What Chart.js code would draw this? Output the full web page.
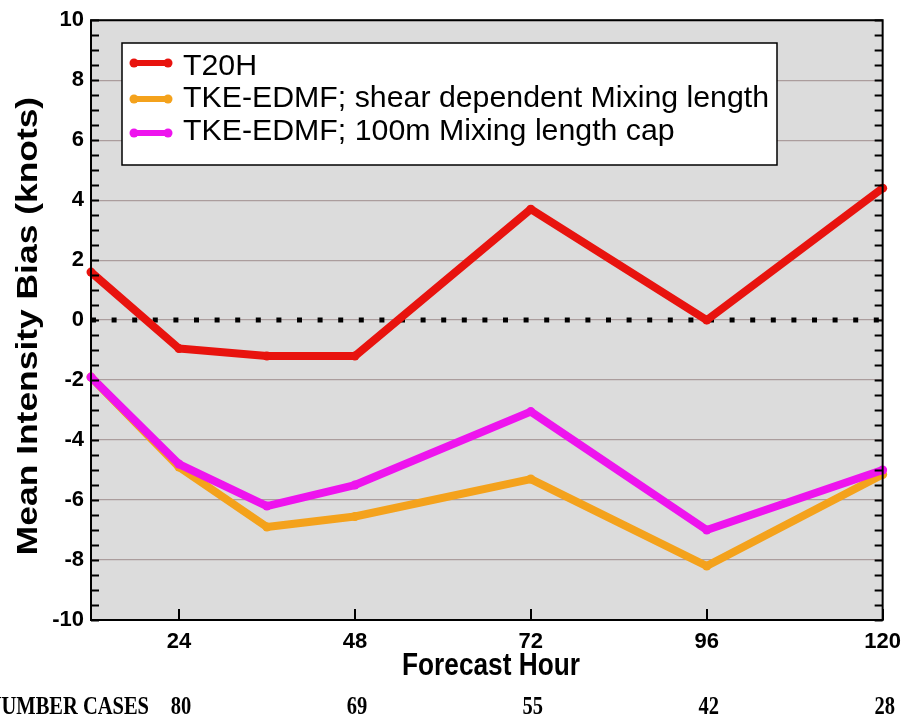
<!DOCTYPE html>
<html>
<head>
<meta charset="utf-8">
<title>Mean Intensity Bias</title>
<script src="https://cdn.jsdelivr.net/npm/chart.js@4/dist/chart.umd.min.js"></script>
<style>
  html, body { margin: 0; padding: 0; background: #ffffff; }
  #chart { display: block; }
</style>
</head>
<body>
<canvas id="chart" width="910" height="725"></canvas>
<script>
// ----- Data -----
const hours = [12, 24, 36, 48, 72, 96, 120];
const t20h = [1.6, -0.95, -1.2, -1.2, 3.7, 0.0, 4.4];
const shearMixing = [-1.9, -4.9, -6.9, -6.55, -5.3, -8.2, -5.15];
const cappedMixing = [-1.9, -4.8, -6.2, -5.5, -3.05, -7.0, -5.0];

const seriesLabels = [
    'T20H',
    'TKE-EDMF; shear dependent Mixing length',
    'TKE-EDMF; 100m Mixing length cap'
];
const seriesColors = ['#e8130e', '#f4a21c', '#ee14ee'];

const tickHours = [24, 48, 72, 96, 120];
const caseHours = [24, 48, 72, 96, 120];
const caseCounts = [80, 69, 55, 42, 28];

const FONT = '"Liberation Sans", Arial, Helvetica, sans-serif';
const SERIF = '"Liberation Serif", "Times New Roman", serif';

// ----- Helpers -----
function toPoints(values) {
    return hours.map((h, i) => ({ x: h, y: values[i] }));
}

// Text drawn with a horizontal squeeze, the way the axis captions look
function drawText(c, text, x, y, font, opts) {
    const o = Object.assign({ sx: 1, sy: 1, align: 'center', baseline: 'middle', rotate: 0, color: '#000' }, opts);
    c.save();
    c.translate(x, y);
    if (o.rotate) c.rotate(o.rotate);
    c.scale(o.sx, o.sy);
    c.font = font;
    c.fillStyle = o.color;
    c.textAlign = o.align;
    c.textBaseline = o.baseline;
    c.fillText(text, 0, 0);
    c.restore();
}

// ----- Plot frame: background, border, minor ticks -----
const framePlugin = {
    id: 'frame',
    beforeDraw(chart) {
        const { ctx: c, chartArea: a } = chart;
        c.save();
        c.fillStyle = '#dcdcdc';
        c.fillRect(a.left, a.top, a.right - a.left, a.bottom - a.top);
        c.restore();
    },
    afterDraw(chart) {
        const { ctx: c, chartArea: a } = chart;
        const y = chart.scales.y;
        const x = chart.scales.x;
        c.save();
        c.strokeStyle = '#000';
        c.lineWidth = 2;
        c.beginPath();
        // minor ticks every half knot, both sides, pointing inward
        for (let v = -10; v <= 10; v += 0.5) {
            const py = Math.round(y.getPixelForValue(v)) + 0.5;
            c.moveTo(a.left, py);
            c.lineTo(a.left + 8, py);
            c.moveTo(a.right, py);
            c.lineTo(a.right - 8, py);
        }
        // hour ticks along the bottom
        tickHours.forEach(h => {
            const px = Math.round(x.getPixelForValue(h));
            c.moveTo(px, a.bottom);
            c.lineTo(px, a.bottom - 11);
        });
        c.stroke();
        c.strokeRect(a.left, a.top, a.right - a.left, a.bottom - a.top);
        c.restore();
    }
};

// ----- Legend box inside the plot -----
const legendBoxPlugin = {
    id: 'legendBox',
    afterDraw(chart) {
        const c = chart.ctx;
        const box = { left: 122, top: 43, right: 777, bottom: 165 };
        const sampleY = [63, 99, 133];
        const textY = [67, 99, 132];
        c.save();
        c.fillStyle = '#ffffff';
        c.fillRect(box.left, box.top, box.right - box.left, box.bottom - box.top);
        c.strokeStyle = '#000';
        c.lineWidth = 1.5;
        c.strokeRect(box.left, box.top, box.right - box.left, box.bottom - box.top);
        seriesLabels.forEach((label, i) => {
            c.strokeStyle = seriesColors[i];
            c.fillStyle = seriesColors[i];
            c.lineWidth = 6;
            c.beginPath();
            c.moveTo(134, sampleY[i]);
            c.lineTo(168, sampleY[i]);
            c.stroke();
            [134, 168].forEach(px => {
                c.beginPath();
                c.arc(px, sampleY[i], 4.5, 0, Math.PI * 2);
                c.fill();
            });
            drawText(c, label, 183, textY[i], '30px ' + FONT, { align: 'left', sx: 1.01 });
        });
        c.restore();
    }
};

// ----- Axis captions and case counts -----
const captionPlugin = {
    id: 'captions',
    afterDraw(chart) {
        const c = chart.ctx;
        const x = chart.scales.x;
        drawText(c, 'Mean Intensity Bias (knots)', 29, 326, 'bold 30px ' + FONT,
            { rotate: -Math.PI / 2, sx: 1.18 });
        drawText(c, 'Forecast Hour', 491, 666, 'bold 32px ' + FONT, { sx: 0.82 });
        drawText(c, 'NUMBER CASES', 149, 708, 'bold 25px ' + SERIF,
            { sx: 0.82, align: 'right' });
        caseHours.forEach((h, i) => {
            drawText(c, String(caseCounts[i]), x.getPixelForValue(h) + 2, 708,
                'bold 25px ' + SERIF, { sx: 0.82 });
        });
    }
};

// ----- Chart -----
const ctx = document.getElementById('chart').getContext('2d');

const chart = new Chart(ctx, {
    type: 'line',
    data: {
        datasets: [
            {
                label: seriesLabels[0],
                data: toPoints(t20h),
                borderColor: seriesColors[0],
                backgroundColor: seriesColors[0],
                order: 0
            },
            {
                label: seriesLabels[1],
                data: toPoints(shearMixing),
                borderColor: seriesColors[1],
                backgroundColor: seriesColors[1],
                order: 2
            },
            {
                label: seriesLabels[2],
                data: toPoints(cappedMixing),
                borderColor: seriesColors[2],
                backgroundColor: seriesColors[2],
                order: 1
            },
            {
                label: 'zero',
                data: [{ x: hours[0], y: 0 }, { x: hours[hours.length - 1], y: 0 }],
                borderColor: '#000',
                borderWidth: 5,
                borderDash: [5, 15.6],
                borderCapStyle: 'butt',
                pointRadius: 0,
                order: 3
            }
        ]
    },
    options: {
        responsive: false,
        animation: false,
        clip: false,
        layout: { padding: { left: 0, right: 22, top: 17, bottom: 0 } },
        elements: {
            line: { borderWidth: 8, borderJoinStyle: 'round', tension: 0 },
            point: { radius: 4.5, borderWidth: 0, hoverRadius: 4.5 }
        },
        plugins: {
            legend: { display: false },
            tooltip: { enabled: false },
            title: { display: false }
        },
        scales: {
            x: {
                type: 'linear',
                min: 12,
                max: 120,
                afterFit(scale) { scale.height = 105; },
                afterBuildTicks(scale) { scale.ticks = tickHours.map(v => ({ value: v })); },
                grid: { display: false, drawTicks: false },
                border: { display: false },
                ticks: {
                    padding: 9,
                    color: '#000',
                    font: { family: FONT, size: 22, weight: 'bold' }
                }
            },
            y: {
                min: -10,
                max: 10,
                afterFit(scale) { scale.width = 91; },
                grid: { color: '#ab9d9d', lineWidth: 1.2, drawTicks: false },
                border: { display: false },
                ticks: {
                    stepSize: 2,
                    padding: 7,
                    color: '#000',
                    font: { family: FONT, size: 22, weight: 'bold' }
                }
            }
        }
    },
    plugins: [framePlugin, legendBoxPlugin, captionPlugin]
});
</script>
</body>
</html>
